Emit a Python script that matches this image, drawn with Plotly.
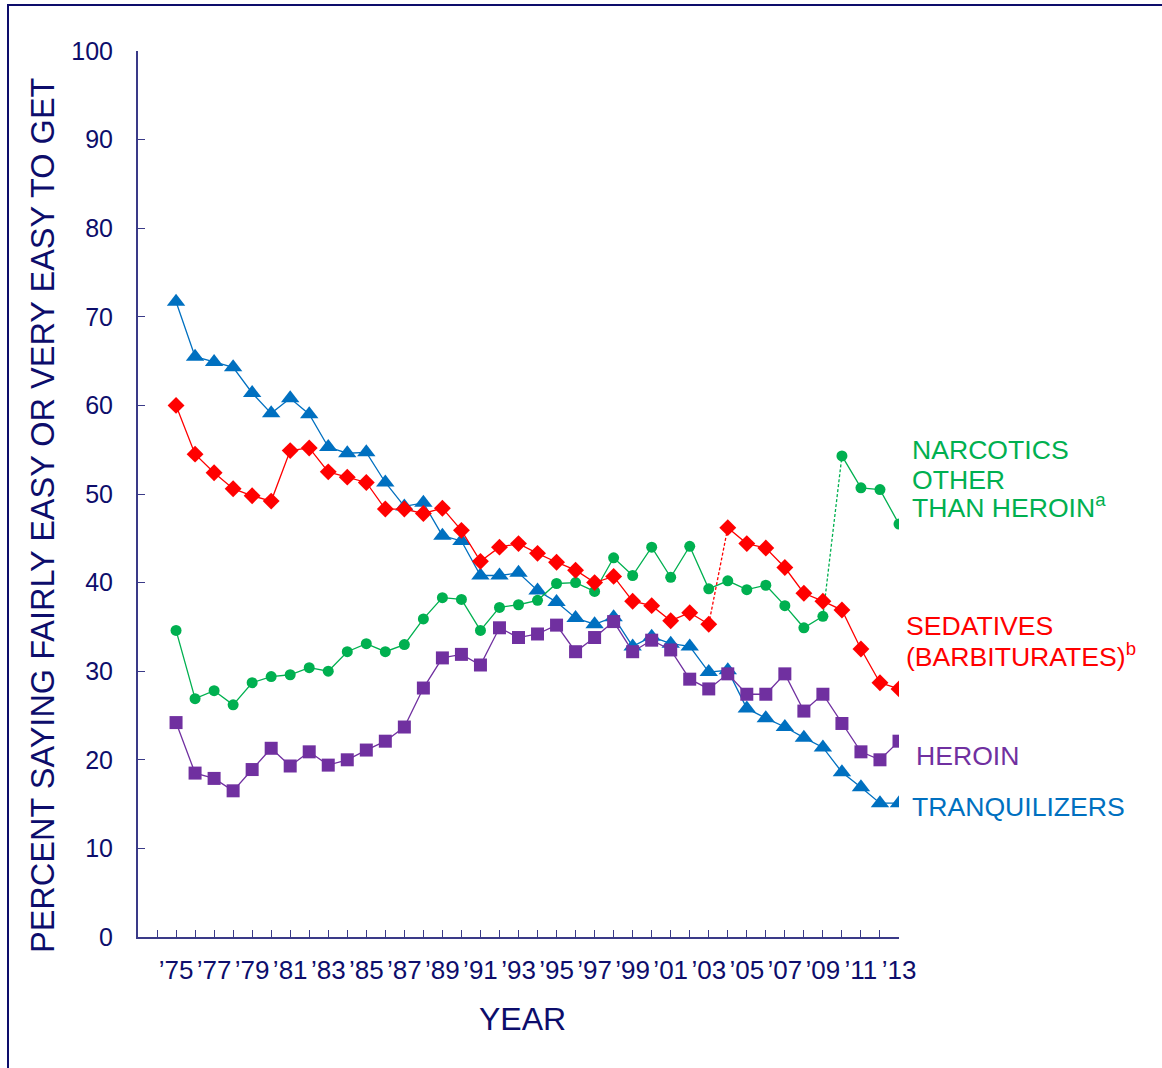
import plotly.graph_objects as go

years = list(range(1975, 2014))

tranquilizers = [71.7, 65.5, 64.9, 64.3, 61.4, 59.1, 60.8, 59.0, 55.3, 54.6,
                 54.7, 51.3, 48.6, 49.0, 45.3, 44.7, 40.8, 40.8, 41.1, 39.1,
                 37.8, 36.0, 35.3, 36.1, 32.8, 33.9, 33.1, 32.8, 29.9, 30.1,
                 25.8, 24.7, 23.7, 22.5, 21.4, 18.6, 16.9, 15.1, 15.1]

sedatives = [60.0, 54.5, 52.4, 50.6, 49.8, 49.2, 54.9, 55.2, 52.5, 51.9,
             51.3, 48.3, 48.3, 47.8, 48.4, 45.9, 42.4, 44.0, 44.4, 43.3,
             42.3, 41.4, 40.0, 40.7, 37.9, 37.4, 35.7, 36.6, 35.3, 46.2,
             44.4, 43.9, 41.7, 38.8, 37.9, 36.9, 32.5, 28.7, 28.0]

narcotics = [34.6, 26.9, 27.8, 26.2, 28.7, 29.4, 29.6, 30.4, 30.0, 32.2,
             33.1, 32.2, 33.0, 35.9, 38.3, 38.1, 34.6, 37.2, 37.5, 38.0,
             39.9, 40.0, 39.0, 42.8, 40.8, 44.0, 40.6, 44.1, 39.3, 40.2,
             39.2, 39.7, 37.4, 34.9, 36.2, 54.3, 50.7, 50.5, 46.6]

heroin = [24.2, 18.5, 17.9, 16.5, 18.9, 21.3, 19.3, 20.9, 19.4, 20.0,
          21.1, 22.1, 23.7, 28.1, 31.5, 31.9, 30.7, 34.9, 33.8, 34.2,
          35.2, 32.2, 33.8, 35.6, 32.2, 33.5, 32.4, 29.1, 28.0, 29.7,
          27.4, 27.4, 29.7, 25.5, 27.4, 24.1, 20.9, 20.0, 22.1]

tick_years = list(range(1975, 2014, 2))
tick_labels = ["’75", "’77", "’79", "’81", "’83", "’85", "’87", "’89", "’91", "’93",
               "’95", "’97", "’99", "’01", "’03", "’05", "’07", "’09", "’11", "’13"]

sed_break = years.index(2004)   # series redefined in 2004
nar_break = years.index(2010)   # series redefined in 2010

C_BLUE = "#0070c0"
C_RED = "#ff0000"
C_GREEN = "#00b050"
C_PURPLE = "#7030a0"
NAVY = "#0d0d6b"
AXIS = "#3a3a88"
FONT = "Liberation Sans, Arial, sans-serif"

fig = go.Figure()

def add_series(x, y, color, symbol, size, width=1.3):
    fig.add_trace(go.Scatter(
        x=x, y=y, mode="lines+markers",
        line=dict(color=color, width=width),
        marker=dict(color=color, symbol=symbol, size=size, line=dict(width=0)),
        showlegend=False, hoverinfo="x+y"))

def add_dash(x, y, color):
    fig.add_trace(go.Scatter(
        x=x, y=y, mode="lines",
        line=dict(color=color, width=1.3, dash="3px,2px"),
        showlegend=False, hoverinfo="skip"))

# Tranquilizers
add_series(years, tranquilizers, C_BLUE, "triangle-up", 16)

# Narcotics other than heroin
add_series(years[:nar_break], narcotics[:nar_break], C_GREEN, "circle", 11)
add_dash(years[nar_break - 1:nar_break + 1], narcotics[nar_break - 1:nar_break + 1], C_GREEN)
add_series(years[nar_break:], narcotics[nar_break:], C_GREEN, "circle", 11)

# Sedatives
add_series(years[:sed_break], sedatives[:sed_break], C_RED, "diamond", 13)
add_dash(years[sed_break - 1:sed_break + 1], sedatives[sed_break - 1:sed_break + 1], C_RED)
add_series(years[sed_break:], sedatives[sed_break:], C_RED, "diamond", 13)

# Heroin
add_series(years, heroin, C_PURPLE, "square", 13)

W, H = 1162, 1068
L, R, T, B = 138, 263, 51, 131
pw, ph = W - L - R, H - T - B

def px(xp):
    return (xp - L) / pw

def py(yp):
    return (H - B - yp) / ph

LS = 26.6
annotations = [
    dict(text="PERCENT SAYING FAIRLY EASY OR VERY EASY TO GET", x=px(43), y=py(515),
         textangle=-90, font=dict(size=32.5, color=NAVY), xanchor="center", yanchor="middle"),
    dict(text="YEAR", x=px(522), y=py(1019), font=dict(size=32, color=NAVY),
         xanchor="center", yanchor="middle"),
    dict(text="NARCOTICS", x=px(910), y=py(450), font=dict(size=LS, color=C_GREEN),
         xanchor="left", yanchor="middle"),
    dict(text="OTHER", x=px(910), y=py(480), font=dict(size=LS, color=C_GREEN),
         xanchor="left", yanchor="middle"),
    dict(text="THAN HEROIN<sup>a</sup>", x=px(910), y=py(506), font=dict(size=LS, color=C_GREEN),
         xanchor="left", yanchor="middle"),
    dict(text="SEDATIVES", x=px(904), y=py(626), font=dict(size=LS, color=C_RED),
         xanchor="left", yanchor="middle"),
    dict(text="(BARBITURATES)<sup>b</sup>", x=px(904), y=py(655), font=dict(size=LS, color=C_RED),
         xanchor="left", yanchor="middle"),
    dict(text="HEROIN", x=px(914), y=py(756), font=dict(size=LS, color=C_PURPLE),
         xanchor="left", yanchor="middle"),
    dict(text="TRANQUILIZERS", x=px(910), y=py(807), font=dict(size=LS, color=C_BLUE),
         xanchor="left", yanchor="middle"),
]
for a in annotations:
    a.update(xref="paper", yref="paper", showarrow=False)

fig.update_layout(
    width=W, height=H,
    margin=dict(l=L, r=R, t=T, b=B, pad=0),
    paper_bgcolor="white", plot_bgcolor="white",
    font=dict(family=FONT, color=NAVY),
    annotations=annotations,
    shapes=[dict(type="rect", xref="paper", yref="paper",
                 x0=px(8), x1=px(1175), y0=py(1080), y1=py(5),
                 line=dict(color=NAVY, width=2), fillcolor="rgba(0,0,0,0)", layer="below")],
    xaxis=dict(range=[1973, 2013], tickmode="array", tickvals=tick_years, ticktext=tick_labels,
               ticks="inside", ticklen=7, tickwidth=1.3, tickcolor=AXIS,
               minor=dict(tickmode="linear", tick0=1973, dtick=1, ticks="inside",
                          ticklen=7, tickwidth=1.3, tickcolor=AXIS, showgrid=False),
               showline=True, linecolor=AXIS, linewidth=2, showgrid=False, zeroline=False,
               tickfont=dict(size=26, color=NAVY, family=FONT), ticklabelstandoff=9,
               fixedrange=True),
    yaxis=dict(range=[0, 100], tickmode="linear", tick0=0, dtick=10,
               ticks="inside", ticklen=7, tickwidth=1.3, tickcolor=AXIS,
               showline=True, linecolor=AXIS, linewidth=2, showgrid=False, zeroline=False,
               tickfont=dict(size=25, color=NAVY, family=FONT), ticklabelstandoff=18,
               fixedrange=True),
)

fig.write_html("out.html", config={"displayModeBar": False},
               post_script="document.body.style.margin='0';")
